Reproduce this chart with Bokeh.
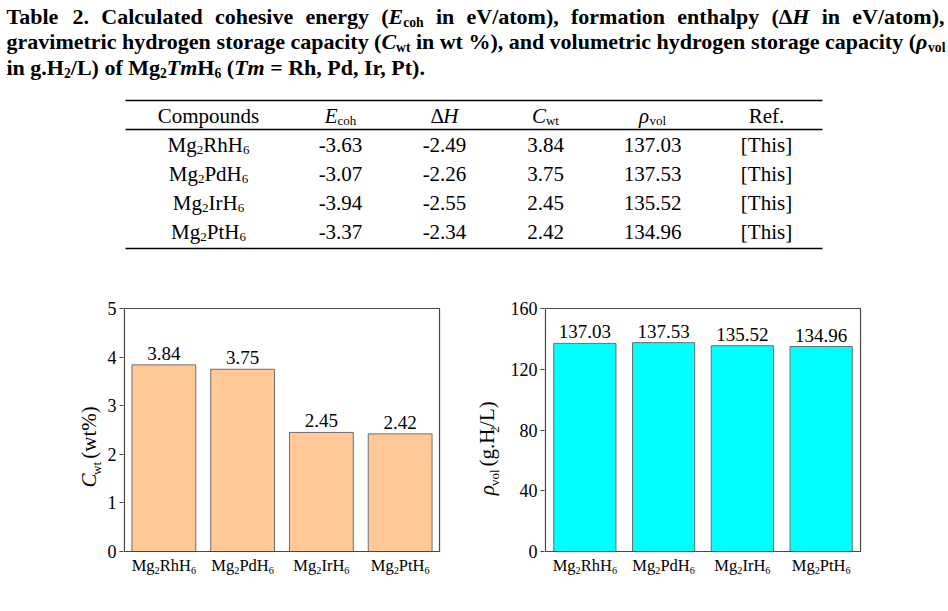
import math
from bokeh.plotting import figure
from bokeh.models import ColumnDataSource, Range1d, FactorRange, LabelSet, FixedTicker
from bokeh.layouts import column, row
from bokeh.core.properties import value, field
from bokeh.embed import file_html
from bokeh.resources import INLINE

FONT = "Liberation Serif"

# ---------------- data ----------------
compounds = ["Mg2RhH6", "Mg2PdH6", "Mg2IrH6", "Mg2PtH6"]
e_coh = [-3.63, -3.07, -3.94, -3.37]
delta_h = [-2.49, -2.26, -2.55, -2.34]
c_wt = [3.84, 3.75, 2.45, 2.42]
rho_vol = [137.03, 137.53, 135.52, 134.96]
refs = ["[This]", "[This]", "[This]", "[This]"]
cwt_ticks = [0, 1, 2, 3, 4, 5]
rho_ticks = [0, 40, 80, 120, 160]


# ---------------- text metrics (Times-compatible) ----------------
def _mk(groups):
    d = {}
    for w, chars in groups.items():
        for c in chars:
            d[c] = w
    return d


R = _mk({250: " .,", 278: "ijlt/:;", 333: "fr()[]-I", 389: "s", 444: "acez",
         500: "bdghknopquvxy0123456789ρ", 556: "PS", 564: "=+", 611: "ELTZΔ",
         667: "BCR", 722: "ADGHKNOUVXYw", 778: "m", 833: "%", 889: "M", 944: "W"})
B = _mk({250: " .,", 278: "il/", 333: "jft()[]-:", 389: "sI", 444: "cerz",
         500: "agvxy0123456789ρ", 556: "bdhknpquS", 570: "=+", 611: "FPΔ",
         667: "BETLZ", 722: "ACDNRUVXYw", 778: "GHKOQ", 833: "m", 944: "M", 1000: "%W"})
IT = {"E": 611, "H": 722, "C": 667, "ρ": 500}
BI = {"E": 667, "H": 778, "C": 667, "T": 611, "m": 778, "ρ": 550}
FS = {"n": "normal", "i": "italic", "b": "bold", "bi": "bold italic"}
SUBF = 0.62


def char_w(c, st):
    if "i" in st:
        tab = BI if "b" in st else IT
        if c in tab:
            return tab[c]
    tab = B if "b" in st else R
    return tab.get(c, 500)


def split(st):
    sub = st.endswith("s")
    return (st[:-1] if sub else st), sub


def lay(runs, base, drop=0.14):
    """Lay out styled runs; returns (text, advance, baseline drop, size, style) and width."""
    out = []
    pos = 0.0
    for txt, st in runs:
        s, sub = split(st)
        size = base * SUBF if sub else base
        k = size / 1000.0
        core = txt.strip(" ")
        lead = len(txt) - len(txt.lstrip(" "))
        trail = len(txt) - len(txt.rstrip(" ")) if core else 0
        pos += lead * char_w(" ", s) * k
        if core:
            out.append((core, pos, base * drop if sub else 0.0, f"{size:.1f}px", FS[s]))
            pos += sum(char_w(c, s) for c in core) * k
        pos += trail * char_w(" ", s) * k
    return out, pos


def run_w(runs, base):
    return lay(runs, base)[1]


def formula(name):
    runs = []
    for ch in name:
        st = "ns" if ch.isdigit() else "n"
        if runs and runs[-1][1] == st:
            runs[-1] = (runs[-1][0] + ch, st)
        else:
            runs.append((ch, st))
    return runs


class Bank:
    """Collects text pieces grouped by font size/style/alignment, rendered as LabelSets."""

    def __init__(self):
        self.groups = {}

    def add(self, txt, x, y, size, style="normal", align="left", xo=0.0, yo=0.0):
        d = self.groups.setdefault((size, style, align),
                                   dict(x=[], y=[], text=[], xo=[], yo=[]))
        d["x"].append(x)
        d["y"].append(y)
        d["text"].append(txt)
        d["xo"].append(xo)
        d["yo"].append(yo)

    def render(self, p, angle=0.0, offsets=False):
        for (size, style, align), d in self.groups.items():
            kw = dict(x_offset=field("xo"), y_offset=field("yo")) if offsets else {}
            p.add_layout(LabelSet(x="x", y="y", text="text", source=ColumnDataSource(d),
                                  angle=angle, text_font=value(FONT), text_font_size=size,
                                  text_font_style=style, text_align=align,
                                  text_baseline="alphabetic", text_color="black", **kw))


def plain_fig(w, h):
    f = figure(width=w, height=h, x_range=Range1d(0, w), y_range=Range1d(-h, 0),
               output_backend="svg", toolbar_location=None, min_border=0,
               x_axis_type=None, y_axis_type=None)
    f.outline_line_color = None
    f.background_fill_color = "white"
    f.border_fill_color = "white"
    return f


# ---------------- caption + table figure (coordinates: px from top-left, y negated) ----------------
top = plain_fig(948, 270)
tb = Bank()


def put(runs, x, y, base):
    items, w = lay(runs, base)
    for txt, a, pp, size, fs in items:
        tb.add(txt, x + a, -(y + pp), size, fs)
    return w


def justify(words, x0, x1, y, base):
    ws = [run_w(w, base) for w in words]
    gap = (x1 - x0 - sum(ws)) / (len(words) - 1)
    x = x0
    for w, wd in zip(words, ws):
        put(w, x, y, base)
        x += wd + gap


CAP = 22
line1 = [[("Table", "b")], [("2.", "b")], [("Calculated", "b")], [("cohesive", "b")],
         [("energy", "b")], [("(", "b"), ("E", "bi"), ("coh", "bs")], [("in", "b")],
         [("eV/atom),", "b")], [("formation", "b")], [("enthalpy", "b")],
         [("(", "b"), ("Δ", "b"), ("H", "bi")], [("in", "b")], [("eV/atom),", "b")]]
line2 = [[("gravimetric", "b")], [("hydrogen", "b")], [("storage", "b")], [("capacity", "b")],
         [("(", "b"), ("C", "bi"), ("wt", "bs")], [("in", "b")], [("wt", "b")], [("%),", "b")],
         [("and", "b")], [("volumetric", "b")], [("hydrogen", "b")], [("storage", "b")],
         [("capacity", "b")], [("(", "b"), ("ρ", "bi"), ("vol", "bs")]]
line3 = [("in g.H", "b"), ("2", "bs"), ("/L) of Mg", "b"), ("2", "bs"), ("Tm", "bi"),
         ("H", "b"), ("6", "bs"), (" (", "b"), ("Tm", "bi"), (" = Rh, Pd, Ir, Pt).", "b")]

justify(line1, 6, 944, 23, CAP)
justify(line2, 6, 945, 48.5, CAP)
put(line3, 6, 74, CAP)

TB = 21
col_x = [208, 340, 444, 545, 652, 766]
headers = [[("Compounds", "n")], [("E", "i"), ("coh", "ns")], [("Δ", "n"), ("H", "i")],
           [("C", "i"), ("wt", "ns")], [("ρ", "i"), ("vol", "ns")], [("Ref.", "n")]]
for cx, h in zip(col_x, headers):
    put(h, cx - run_w(h, TB) / 2, 122, TB)

row_y = [151, 180, 209, 238]
for i, name in enumerate(compounds):
    fr = formula(name)
    put(fr, col_x[0] - run_w(fr, TB) / 2, row_y[i], TB)
    cells = [f"{e_coh[i]:.2f}", f"{delta_h[i]:.2f}", f"{c_wt[i]:.2f}", f"{rho_vol[i]:.2f}", refs[i]]
    for cx, txt in zip(col_x[1:], cells):
        tb.add(txt, cx, -row_y[i], f"{TB}px", "normal", "center")
tb.render(top)

rules_y = [-100, -129, -248]
top.segment(x0=[125] * 3, x1=[822] * 3, y0=rules_y, y1=rules_y, line_color="black", line_width=1.3)


# ---------------- bar charts ----------------
PLOT_W, PLOT_H = 320, 243      # plot box size in px
BELOW = 60                     # px under the plot box kept for category labels
PAD = 1                        # px of frame kept around the plot box
BOX = "#474747"


def chart(values, ticks, ymax, color, lab_w, bl, br, label_runs, label_x, bar_w):
    n = len(compounds)
    unit = PLOT_W / n
    xr = FactorRange(*compounds, range_padding=2 * PAD / unit, range_padding_units="absolute")
    u = ymax / PLOT_H
    yr = Range1d(-BELOW * u, ymax + PAD * u)
    p = figure(width=474 - lab_w, height=341, x_range=xr, y_range=yr,
               output_backend="svg", toolbar_location=None,
               min_border_left=bl - PAD, min_border_right=br - PAD,
               min_border_top=38 - PAD, min_border_bottom=0)
    p.background_fill_color = "white"
    p.border_fill_color = "white"
    p.outline_line_color = None
    p.xgrid.visible = False
    p.ygrid.visible = False
    p.xaxis.visible = False
    ax = p.yaxis[0]
    ax.ticker = FixedTicker(ticks=ticks)
    ax.bounds = (0, ymax)
    ax.major_label_text_font = FONT
    ax.major_label_text_font_size = "18px"
    ax.major_label_text_color = "black"
    ax.major_tick_out = 4 - PAD
    ax.major_tick_in = PAD
    ax.minor_tick_out = 0
    ax.minor_tick_in = 0
    ax.major_label_standoff = 3
    ax.axis_line_color = None
    ax.major_tick_line_color = BOX
    ax.major_tick_line_width = 1.2

    src = ColumnDataSource(dict(cat=compounds, val=values,
                                lab=[f"{v:.2f}" for v in values]))
    p.vbar(x="cat", top="val", width=bar_w, source=src, fill_color=color,
           line_color="#6e6e6e", line_width=1)
    # plot box, spanning the whole factor range and the value range
    p.quad(left=[0], right=[n], bottom=[0], top=[ymax], fill_color=None,
           line_color=BOX, line_width=1.2)
    p.add_layout(LabelSet(x="cat", y="val", text="lab", source=src, y_offset=5,
                          text_align="center", text_baseline="alphabetic",
                          text_font=value(FONT), text_font_size="19px", text_color="black"))

    # category labels with subscripts, under the box
    xb = Bank()
    for name in compounds:
        items, w = lay(formula(name), 16.5, drop=0.22)
        for txt, a, pp, size, fs in items:
            xb.add(txt, name, 0, size, fs, "left", xo=-w / 2 + a, yo=-(19 + pp))
    xb.render(p, offsets=True)

    # rotated y-axis label in its own strip
    yl = plain_fig(lab_w, 341)
    yb = Bank()
    items, w = lay(label_runs, 21, drop=0.2)
    yc = 38 + PLOT_H / 2
    for txt, a, pp, size, fs in items:
        yb.add(txt, label_x + pp, -(yc + w / 2 - a), size, fs)
    yb.render(yl, angle=math.pi / 2)
    return row(yl, p)


left = chart(c_wt, cwt_ticks, 5, "#FFC896", 104, 16, 34,
             [("C", "i"), ("wt", "ns"), (" (wt%)", "n")], 96, 0.81)
right = chart(rho_vol, rho_ticks, 160, "#00FFFF", 33, 34, 87,
              [("ρ", "i"), ("vol", "ns"), (" (g.H", "n"), ("2", "ns"), ("/L)", "n")], 20, 0.79)

page = column(top, row(left, right))
open("out.html", "w").write(file_html(page, INLINE))
